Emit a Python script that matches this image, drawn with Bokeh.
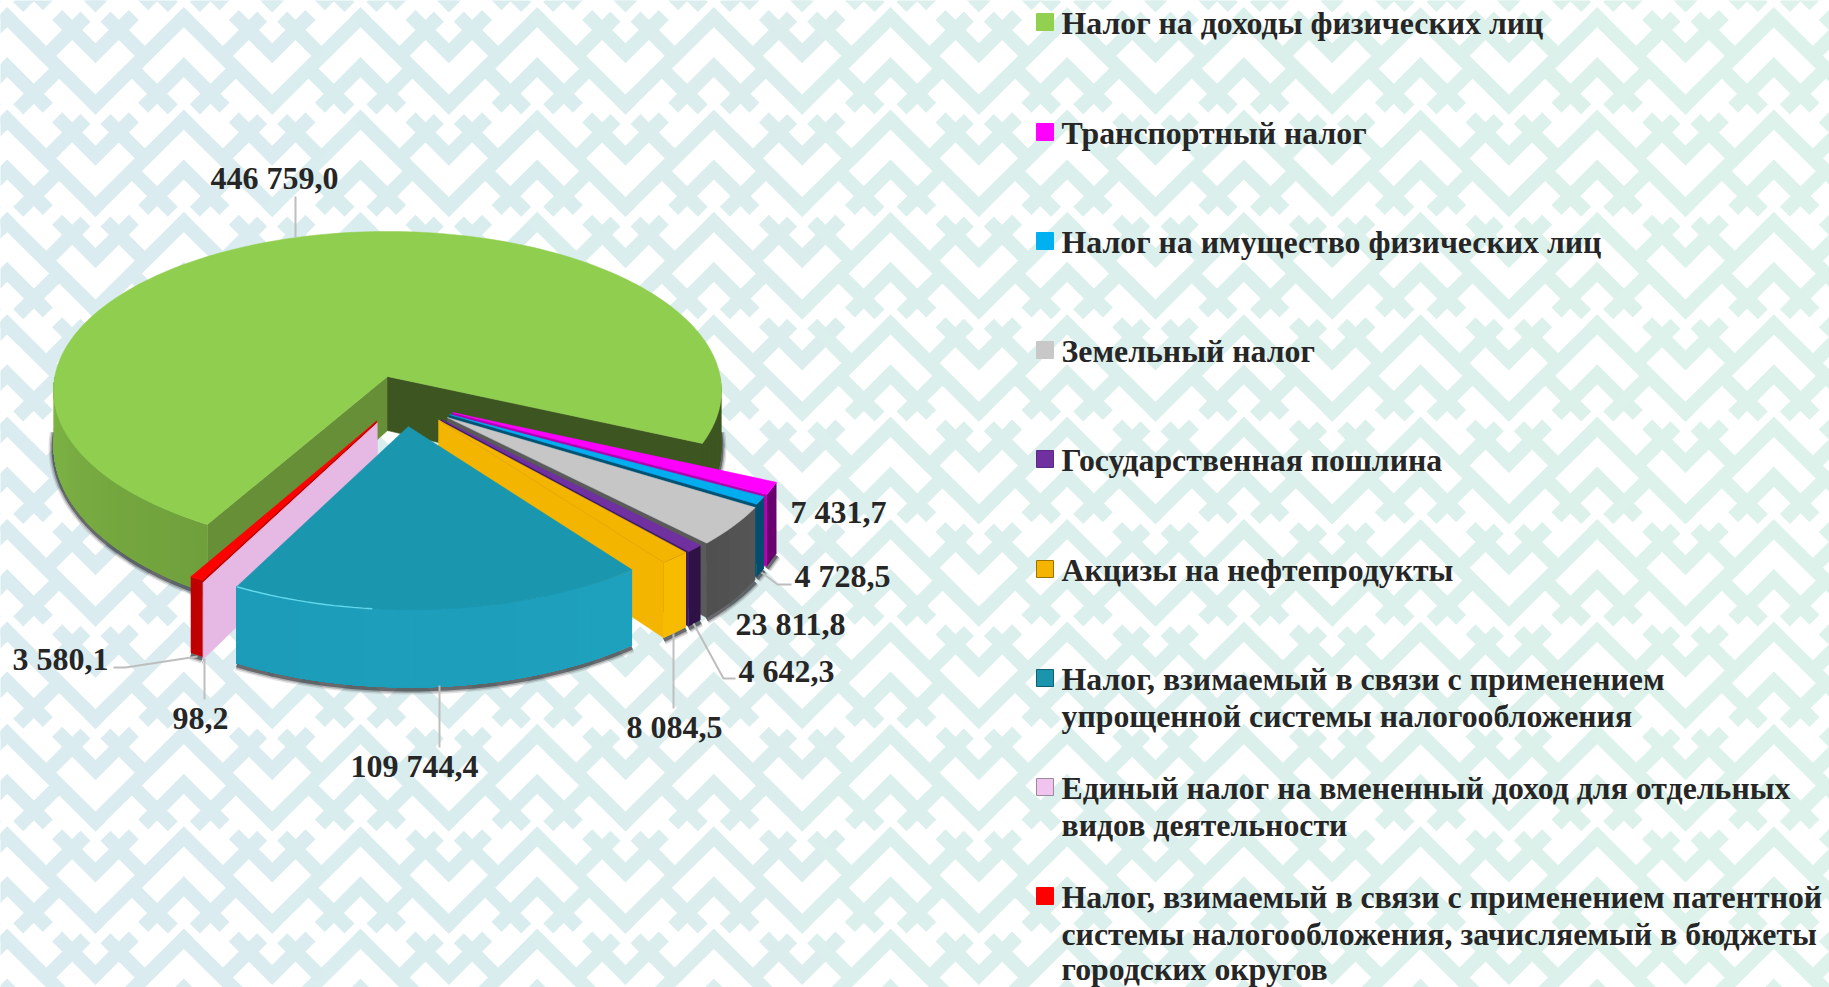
import numpy as np
from bokeh.plotting import figure
from bokeh.models import Range1d
from bokeh.core.properties import value
from bokeh.embed import file_html
from bokeh.resources import INLINE

# ---------- data ----------
categories = [
    ["Налог на доходы физических лиц"],
    ["Транспортный налог"],
    ["Налог на имущество физических лиц"],
    ["Земельный налог"],
    ["Государственная пошлина"],
    ["Акцизы на нефтепродукты"],
    ["Налог, взимаемый в связи с применением", "упрощенной системы налогообложения"],
    ["Единый налог на вмененный доход для отдельных", "видов деятельности"],
    ["Налог, взимаемый в связи с применением патентной", "системы налогообложения, зачисляемый в бюджеты", "городских округов"],
]
values = [446759.0, 7431.7, 4728.5, 23811.8, 4642.3, 8084.5, 109744.4, 98.2, 3580.1]

# ---------- styles ----------
top_colors = ["#90CE50", "#FF00FF", "#00AEEF", "#C6C6C6", "#7030A0", "#F3B500", "#1B96AF", "#E6B8E4", "#FF0000"]
rim_a = ["#7FB647", "#6A0070", "#004E6C", "#565656", "#2E1145", "#F8BE00", "#1FA2BE", "#E6B8E4", "#C00000"]
rim_b = ["#70A03C", "#6A0070", "#004E6C", "#505050", "#2E1145", "#F6BA00", "#1C9CB8", "#E6B8E4", "#C00000"]
wall_start = ["#678F37", "#6A0070", "#004E6C", "#555555", "#2E1145", "#E9AE00", "#17859C", "#E6B8E4", "#C00000"]
wall_end = ["#3D5520", "#B000B0", "#005272", "#5A5A5A", "#3E1A66", "#F3B500", "#17859C", "#E6B8E4", "#C00000"]
swatch_colors = ["#92D050", "#FF00FF", "#00B0F0", "#C8C8C8", "#7030A0", "#F4B400", "#1B95AE", "#F0C4EE", "#FF0000"]
swatch_lines = ["#92D050", "#FF00FF", "#00B0F0", "#C8C8C8", "#5A2A85", "#9A7400", "#0F5F70", "#9A8A9A", "#FF0000"]

# exploded offset of each slice in the ground plane
explode_x = [0.0, .1915, .182, .176, .158, .15, .061, -.03, -.032]
explode_y = [0.0, .224, .236, .254, .266, .27, .308, .288, .276]
depth_base = [54, 65, 65, 65, 65, 65, 65, 65, 65]
depth_grow = [.32, .15, .15, .15, .15, .15, .15, .15, .15]
paint_order = [0, 1, 2, 3, 4, 5, 8, 7, 6]

START = 120.0
CX, CY, A, B, K = 387.0, 376.0, 332.7, 157.8, 0.088

swatch_tops = [13, 123, 232, 341, 450, 560, 669, 778, 887]
legend_baselines = [[22.5], [132.5], [241.5], [350.5], [459.5], [569.5], [678.5, 715.5], [787.5, 824.5], [896.5, 933.5, 969]]
LEG_SIZE = 31.8
label_x = [274, 838, 842, 790, 786, 674, 414, 200, 60]
label_y = [177, 511, 575, 623, 670, 726, 765, 718, 658]
leader_x = [[295, 295], [], [761, 777, 791], [], [693, 723, 735], [673, 673], [439, 439], [204, 204], [197, 125, 113]]
leader_y = [[196, 237], [], [572, 584, 584], [], [623, 678, 678], [633, 708], [685, 747], [658, 699], [656, 667, 667]]

W, H = 1829, 987
p = figure(width=W, height=H, x_range=Range1d(0, W), y_range=Range1d(H, 0),
           output_backend="svg", toolbar_location=None, min_border=0,
           background_fill_color="white", border_fill_color="white", outline_line_color=None)
p.axis.visible = False
p.grid.visible = False

# ---------- background ornament ----------
PX, PY = 530 / 3, 102.4
WIDTH = 14.2


def tint(x):
    t = min(max(x / 1829, 0), 1)
    c0, c1 = np.array([218, 236, 240]), np.array([221, 243, 234])
    r, g, b = (c0 + (c1 - c0) * t).astype(int)
    return f"#{r:02x}{g:02x}{b:02x}"


def z(x, y):
    return x / 3, 760 + y / 3


seg_x, seg_y, seg_c, path_x, path_y, path_c = [], [], [], [], [], []
for i in range(-1, 12):
    for j in range(-9, 4):
        ox, oy = i * PX, j * PY
        pts = [z(20, 228), z(285, 490), z(550, 228)]
        for a, b in zip(pts[:-1], pts[1:]):
            seg_x.append([a[0] + ox, b[0] + ox])
            seg_y.append([a[1] + oy, b[1] + oy])
            seg_c.append(tint(a[0] + ox))
        shapes = [
            [(428, 192), (550, 70), (672, 192)],
            [(393, 74), (517, 197)],
            [(707, 74), (583, 197)],
            [(170, 221), (285, 336), (400, 221)],
            [(136, 345), (255, 226)],
            [(434, 345), (315, 226)],
        ]
        for sh in shapes:
            q = [z(*s) for s in sh]
            path_x.append([c[0] + ox for c in q])
            path_y.append([c[1] + oy for c in q])
            path_c.append(tint(q[0][0] + ox))
p.multi_line(seg_x, seg_y, line_color=seg_c, line_width=WIDTH, line_cap="square", line_join="miter")
p.multi_line(path_x, path_y, line_color=path_c, line_width=WIDTH, line_cap="butt", line_join="miter")


# ---------- 3D pie ----------
def proj(X, Y):
    s = 1 / (1 - K * np.asarray(Y))
    return CX + A * np.asarray(X) * s, CY + B * np.asarray(Y) * s


def mix(c1, c2, t):
    a = np.array([int(c1[i:i + 2], 16) for i in (1, 3, 5)])
    b = np.array([int(c2[i:i + 2], 16) for i in (1, 3, 5)])
    r, g, bl = (a + (b - a) * t).astype(int)
    return f"#{r:02x}{g:02x}{bl:02x}"


total = sum(values)
sweeps = [v / total * 360 for v in values]
starts = START + np.concatenate([[0], np.cumsum(sweeps)[:-1]])

for idx in paint_order:
    t0, t1 = starts[idx], starts[idx] + sweeps[idx]
    ex, ey = explode_x[idx], explode_y[idx]
    dep = lambda Y: depth_base[idx] * (1 + depth_grow[idx] * np.asarray(Y))
    n = max(int(sweeps[idx] / 1.5), 2)
    th = np.radians(np.linspace(t0, t1, n))
    GX, GY = ex + np.cos(th), ey + np.sin(th)
    tx, ty = proj(GX, GY)
    vx, vy = proj(ex, ey)

    ranges = []
    for k in (0, 1, 2):
        lo, hi = max(t0, 360 * k), min(t1, 360 * k + 180)
        if hi > lo:
            ranges.append((lo, hi))

    # soft shadow under the lower edge
    for lo, hi in ranges:
        a = np.radians(np.linspace(lo, hi, max(int((hi - lo) / 2), 2)))
        sx, sy = proj(ex + np.cos(a), ey + np.sin(a))
        sy = sy + dep(ey + np.sin(a))
        for w, al in ((10, .14), (7, .26), (4, .55)):
            p.line(sx, sy + 2, line_color="#2A2E33", line_width=w, line_alpha=al, line_cap="butt")

    # cut walls
    for ang, col, sign in ((t0, wall_start[idx], 1), (t1, wall_end[idx], -1)):
        r = np.radians(ang)
        normal_y = -np.cos(r) * sign
        if normal_y <= 0:
            continue
        oy_ = ey + np.sin(r)
        ox_, oy2 = proj(ex + np.cos(r), oy_)
        p.patch([vx, ox_, ox_, vx],
                [vy, oy2, oy2 + dep(oy_), vy + dep(ey)],
                fill_color=col, line_color=col, line_width=.6)

    # outer wall: overlapping bands give the shading without seams
    for lo, hi in ranges:
        edges = np.linspace(lo, hi, max(int((hi - lo) / 2.5), 1) + 1)
        xs, ys, cs = [], [], []
        back = lo >= 360
        for q, e0 in enumerate(edges[:-1]):
            a = np.radians(np.linspace(e0, hi, max(int((hi - e0) / 1.5), 2)))
            GXr, GYr = ex + np.cos(a), ey + np.sin(a)
            ax, ay = proj(GXr, GYr)
            ad = ay + dep(GYr)
            xs.append(list(ax) + list(ax[::-1]))
            ys.append(list(ay) + list(ad[::-1]))
            t = (q + .5) / (len(edges) - 1)
            cs.append(wall_end[idx] if (back and idx == 0) else mix(rim_a[idx], rim_b[idx], 1 - t if idx == 0 else t))
        p.patches(xs, ys, fill_color=cs, line_color=None)

    # top face
    p.patch(np.concatenate([[vx], tx]), np.concatenate([[vy], ty]),
            fill_color=top_colors[idx], line_color=top_colors[idx], line_width=.5)

    # highlight on the near edge of the largest exploded slice
    if idx == 6:
        a = np.radians(np.linspace(t1, t1 - 22, 16))
        hx, hy = proj(ex + np.cos(a), ey + np.sin(a))
        p.line(hx, hy, line_color="#62D8EC", line_width=1.4)

# ---------- leaders and value labels ----------
lx = [a for a in leader_x if a]
ly = [a for a in leader_y if a]
p.multi_line(lx, ly, line_color="#BEBEBE", line_width=2)


def fmt(v):
    s = f"{v:,.1f}"
    return s.replace(",", " ").replace(".", ",")


p.text(label_x, label_y, text=[fmt(v) for v in values], text_font=value("Liberation Serif"),
       text_font_style="bold", text_font_size="32px", text_color="#262626",
       text_align="center", text_baseline="alphabetic")

# ---------- legend ----------
for i, (lines, bases) in enumerate(zip(categories, legend_baselines)):
    t0 = swatch_tops[i]
    p.quad(left=[1036], right=[1053], top=[t0], bottom=[t0 + 17],
           fill_color=swatch_colors[i], line_color=swatch_lines[i], line_width=1)
    p.text([1061] * len(lines), bases, text=lines, text_font=value("Liberation Serif"),
           text_font_style="bold", text_font_size=f"{LEG_SIZE}px", text_color="#262626",
           text_align="left", text_baseline="alphabetic")

open("out.html", "w").write(file_html(p, INLINE))
